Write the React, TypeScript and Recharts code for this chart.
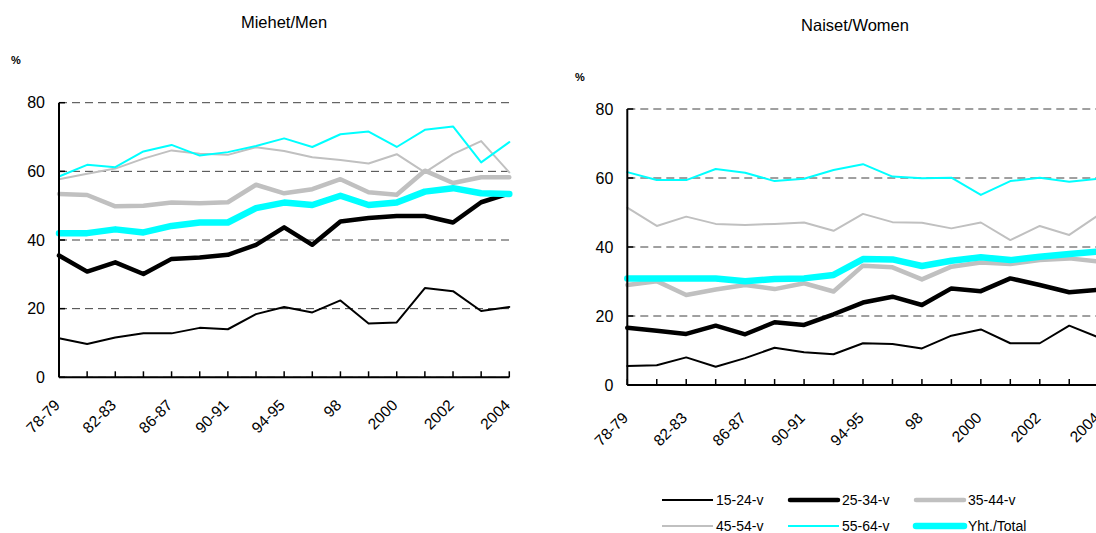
import React from "react";
import { LineChart, Line, XAxis, YAxis, CartesianGrid } from "recharts";

const FONT = "'Liberation Sans', Arial, Helvetica, sans-serif";

// Categories (survey years)
const categories = [
  "78-79", "80-81", "82-83", "84-85", "86-87", "88-89", "90-91", "92-93", "94-95",
  "97", "98", "99", "2000", "2001", "2002", "2003", "2004",
];
const yTicks = [0, 20, 40, 60, 80];

// Men (Miehet)
const men1524 = [11.4, 9.7, 11.6, 12.8, 12.8, 14.4, 14.0, 18.4, 20.5, 18.9, 22.4, 15.7, 16.0, 26.0, 25.1, 19.3, 20.5];
const men2534 = [35.5, 30.8, 33.5, 30.1, 34.5, 34.9, 35.7, 38.6, 43.7, 38.6, 45.4, 46.4, 47.0, 47.0, 45.1, 51.0, 53.6];
const men3544 = [53.4, 53.1, 49.8, 50.0, 50.9, 50.7, 51.0, 56.1, 53.6, 54.8, 57.7, 53.9, 53.2, 60.2, 56.6, 58.3, 58.3];
const men4554 = [57.7, 59.3, 60.8, 63.7, 66.1, 65.1, 64.8, 67.0, 65.9, 64.1, 63.3, 62.3, 65.0, 59.7, 65.0, 68.8, 59.7];
const men5564 = [58.5, 61.9, 61.2, 65.8, 67.7, 64.6, 65.6, 67.4, 69.6, 67.1, 70.8, 71.6, 67.1, 72.1, 73.1, 62.6, 68.5];
const menTotal = [42.0, 42.0, 43.1, 42.2, 44.1, 45.1, 45.1, 49.3, 50.9, 50.2, 52.9, 50.2, 50.9, 54.1, 55.1, 53.6, 53.4];

// Women (Naiset)
const women1524 = [5.5, 5.7, 8.0, 5.3, 7.8, 10.8, 9.5, 8.9, 12.1, 11.9, 10.6, 14.3, 16.1, 12.1, 12.1, 17.2, 13.8];
const women2534 = [16.6, 15.7, 14.8, 17.2, 14.7, 18.2, 17.4, 20.5, 23.9, 25.6, 23.2, 28.0, 27.2, 30.9, 29.0, 26.9, 27.6];
const women3544 = [29.0, 30.1, 26.1, 27.7, 29.0, 27.8, 29.5, 27.1, 34.6, 34.1, 30.6, 34.3, 35.5, 35.1, 36.2, 36.7, 35.8];
const women4554 = [51.4, 46.1, 48.8, 46.7, 46.4, 46.7, 47.1, 44.7, 49.6, 47.2, 47.0, 45.4, 47.1, 42.0, 46.1, 43.5, 49.3];
const women5564 = [61.7, 59.4, 59.4, 62.6, 61.5, 59.1, 59.8, 62.3, 64.0, 60.4, 59.9, 60.1, 55.1, 59.1, 60.1, 58.9, 59.8];
const womenTotal = [30.9, 30.9, 30.9, 30.9, 30.1, 30.7, 30.9, 31.9, 36.5, 36.4, 34.5, 36.0, 37.0, 36.2, 37.2, 38.0, 38.7];

const seriesDefs = [
  { key: "s1524", name: "15-24-v", color: "#000000", width: 2 },
  { key: "s2534", name: "25-34-v", color: "#000000", width: 4.5 },
  { key: "s3544", name: "35-44-v", color: "#c0c0c0", width: 4.5 },
  { key: "s4554", name: "45-54-v", color: "#c0c0c0", width: 2 },
  { key: "s5564", name: "55-64-v", color: "#00ffff", width: 2 },
  { key: "total", name: "Yht./Total", color: "#00ffff", width: 6.5 },
];

function buildRows(series: number[][]) {
  return categories.map((c, i) => {
    const row: Record<string, any> = { cat: c };
    seriesDefs.forEach((s, k) => {
      row[s.key] = series[k][i];
    });
    return row;
  });
}

const menRows = buildRows([men1524, men2534, men3544, men4554, men5564, menTotal]);
const womenRows = buildRows([women1524, women2534, women3544, women4554, women5564, womenTotal]);

const XTick = (props: any) => {
  const { x, y, payload } = props;
  const idx = props.index ?? payload?.index ?? 0;
  if (idx % 2 !== 0) return null;
  const ax = x - 2;
  return (
    <text
      x={ax}
      y={y}
      transform={`rotate(-45 ${ax} ${y})`}
      textAnchor="end"
      dy="0.35em"
      fontSize={15.5}
      fontFamily={FONT}
      fill="#000"
    >
      {payload.value}
    </text>
  );
};

type PanelProps = {
  rows: any[];
  width: number;
  height: number;
  margin: { top: number; right: number; bottom: number; left: number };
  yAxisWidth: number;
  labelGap: number;
};

function Panel({ rows, width, height, margin, yAxisWidth, labelGap }: PanelProps) {
  return (
    <LineChart width={width} height={height} data={rows} margin={margin}>
      <CartesianGrid
        horizontal={true}
        vertical={false}
        stroke="#404040"
        strokeDasharray="8 5"
        strokeWidth={1}
      />
      <XAxis
        dataKey="cat"
        interval={0}
        height={60}
        tickSize={-6}
        tickMargin={labelGap}
        axisLine={{ stroke: "#000", strokeWidth: 2 }}
        tickLine={{ stroke: "#000", strokeWidth: 1.5 }}
        tick={<XTick />}
      />
      <YAxis
        domain={[0, 80]}
        ticks={yTicks}
        width={yAxisWidth}
        tickSize={-6}
        tickMargin={20}
        axisLine={{ stroke: "#000", strokeWidth: 2 }}
        tickLine={{ stroke: "#000", strokeWidth: 1.5 }}
        tick={{ fontSize: 16, fontFamily: FONT, fill: "#000" }}
      />
      {seriesDefs.map((s) => (
        <Line
          key={s.key}
          type="linear"
          dataKey={s.key}
          name={s.name}
          stroke={s.color}
          strokeWidth={s.width}
          strokeLinejoin="round"
          strokeLinecap="round"
          dot={false}
          activeDot={false}
          isAnimationActive={false}
        />
      ))}
    </LineChart>
  );
}

const legendRows = [
  [seriesDefs[0], seriesDefs[1], seriesDefs[2]],
  [seriesDefs[3], seriesDefs[4], seriesDefs[5]],
];
const legendCols = [662, 788, 914];
const legendRowY = [500, 526];

export default function App() {
  return (
    <div
      style={{
        position: "fixed",
        left: 0,
        top: 0,
        width: 1096,
        height: 533,
        overflow: "hidden",
        background: "#fff",
        fontFamily: FONT,
      }}
    >
      <div style={{ position: "absolute", left: 0, top: 0 }}>
        <Panel
          rows={menRows}
          width={530}
          height={470}
          yAxisWidth={59}
          labelGap={31}
          margin={{ top: 102.7, right: 20.7, bottom: 32.7, left: 0 }}
        />
      </div>
      <div style={{ position: "absolute", left: 560, top: 0 }}>
        <Panel
          rows={womenRows}
          width={560}
          height={470}
          yAxisWidth={67.3}
          labelGap={36}
          margin={{ top: 109, right: 21.3, bottom: 25, left: 0 }}
        />
      </div>
      <svg
        width={1096}
        height={533}
        style={{ position: "absolute", left: 0, top: 0, pointerEvents: "none" }}
      >
        <text x={284} y={22} textAnchor="middle" dominantBaseline="central" fontSize={16.5} fontFamily={FONT} fill="#000">
          Miehet/Men
        </text>
        <text x={855} y={25} textAnchor="middle" dominantBaseline="central" fontSize={16.5} fontFamily={FONT} fill="#000">
          Naiset/Women
        </text>
        <text x={16} y={60} textAnchor="middle" dominantBaseline="central" fontSize={11} fontWeight="bold" fontFamily={FONT} fill="#000">
          %
        </text>
        <text x={580} y={77} textAnchor="middle" dominantBaseline="central" fontSize={11} fontWeight="bold" fontFamily={FONT} fill="#000">
          %
        </text>
        {legendRows.map((row, r) =>
          row.map((s, c) => {
            const x0 = legendCols[c];
            const y0 = legendRowY[r];
            const thick = s.width > 3;
            return (
              <g key={s.key}>
                <line
                  x1={x0 + (thick ? 2 : 0)}
                  x2={x0 + (thick ? 50 : 51)}
                  y1={y0}
                  y2={y0}
                  stroke={s.color}
                  strokeWidth={s.width}
                  strokeLinecap={thick ? "round" : "butt"}
                />
                <text x={x0 + 54} y={y0} dominantBaseline="central" fontSize={14} fontFamily={FONT} fill="#000">
                  {s.name}
                </text>
              </g>
            );
          })
        )}
      </svg>
    </div>
  );
}
